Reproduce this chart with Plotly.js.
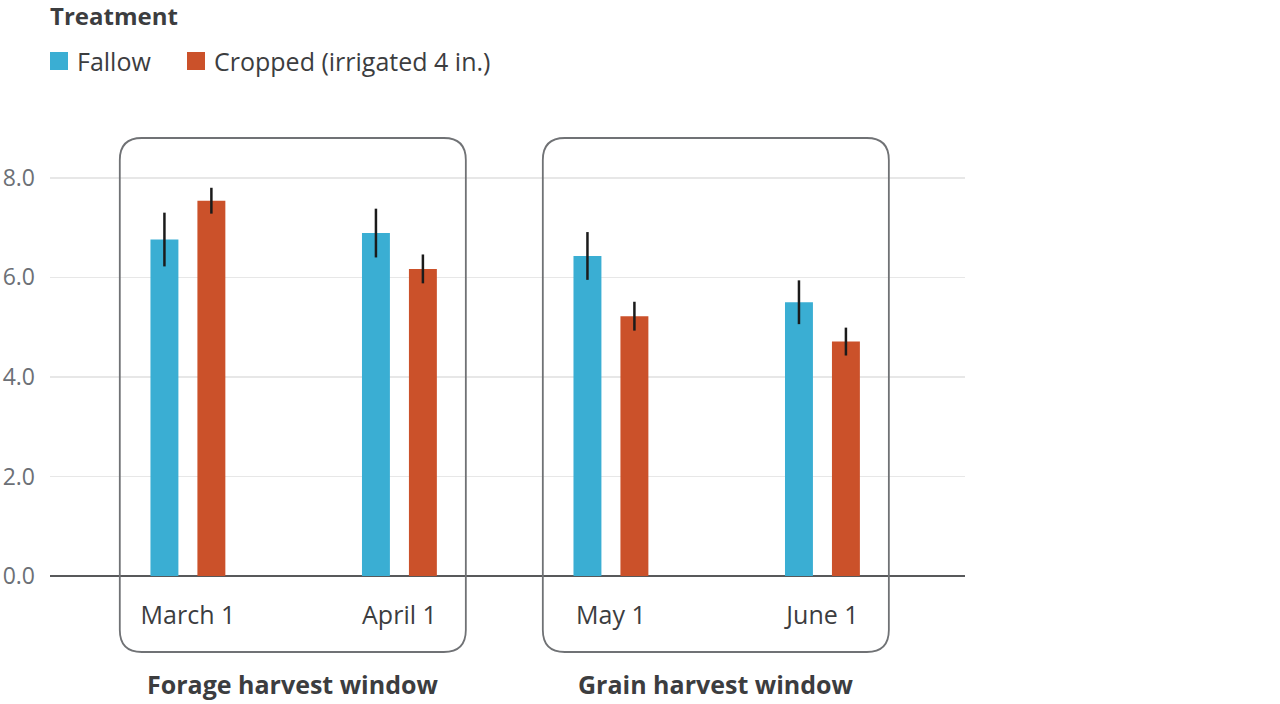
<!DOCTYPE html>
<html>
<head>
<meta charset="utf-8">
<script src="https://cdn.plot.ly/plotly-3.0.1.min.js"></script>
<style>
  html, body { margin: 0; padding: 0; background: #fff; }
  #chart { width: 1280px; height: 704px; }
</style>
</head>
<body>
<div id="chart"></div>
<script>
// Harvest dates, grouped into two harvest windows
const categories = ['March 1', 'April 1', 'May 1', 'June 1'];
const windows = [
  { label: 'Forage harvest window', from: 0, to: 1 },
  { label: 'Grain harvest window', from: 2, to: 3 }
];

// Yield by treatment, with error half-widths
const fallow = [6.76, 6.89, 6.43, 5.50];
const fallowErr = [0.54, 0.49, 0.48, 0.44];
const cropped = [7.54, 6.17, 5.22, 4.71];
const croppedErr = [0.26, 0.29, 0.29, 0.28];

const seriesNames = ['Fallow', 'Cropped (irrigated 4 in.)'];
const legendTitle = 'Treatment';
const yTicks = [0, 2, 4, 6, 8];

const BLUE = '#3aaed3';
const ORANGE = '#cb512a';
const TEXT = '#3c3d3f';
const FONT = '"Open Sans", Lato, sans-serif';

// Layout geometry (pixels)
const W = 1280, H = 704;
const M = { l: 50, r: 315, t: 138, b: 128 };
const plotW = W - M.l - M.r;
const plotH = H - M.t - M.b;
const xRange = [-0.652, 3.674];
const yRange = [0, 8.8];

const xPaper = v => (v - xRange[0]) / (xRange[1] - xRange[0]);
const pxX = p => (p - M.l) / plotW;
const pxY = p => (M.t + plotH - p) / plotH;

const traces = [
  {
    type: 'bar', name: seriesNames[0], x: categories, y: fallow,
    marker: { color: BLUE },
    error_y: { type: 'data', array: fallowErr, visible: true, color: '#1b1b1b', thickness: 2.5, width: 0 },
    showlegend: false, hoverinfo: 'x+y'
  },
  {
    type: 'bar', name: seriesNames[1], x: categories, y: cropped,
    marker: { color: ORANGE },
    error_y: { type: 'data', array: croppedErr, visible: true, color: '#1b1b1b', thickness: 2.5, width: 0 },
    showlegend: false, hoverinfo: 'x+y'
  }
];

// Rounded outline around each harvest window
function roundedBox(x0, x1, y0, y1, rPx) {
  const rx = rPx / plotW, ry = rPx / plotH;
  return 'M' + (x0 + rx) + ',' + y1 +
    ' L' + (x1 - rx) + ',' + y1 +
    ' Q' + x1 + ',' + y1 + ' ' + x1 + ',' + (y1 - ry) +
    ' L' + x1 + ',' + (y0 + ry) +
    ' Q' + x1 + ',' + y0 + ' ' + (x1 - rx) + ',' + y0 +
    ' L' + (x0 + rx) + ',' + y0 +
    ' Q' + x0 + ',' + y0 + ' ' + x0 + ',' + (y0 + ry) +
    ' L' + x0 + ',' + (y1 - ry) +
    ' Q' + x0 + ',' + y1 + ' ' + (x0 + rx) + ',' + y1 + ' Z';
}

const shapes = [];
const annotations = [];
const boxBottom = pxY(652);
windows.forEach(w => {
  const x0 = xPaper(w.from - 0.322);
  const x1 = xPaper(w.to + 0.314);
  shapes.push({
    type: 'path', xref: 'paper', yref: 'paper',
    path: roundedBox(x0, x1, boxBottom, 1, 22),
    line: { color: '#707275', width: 1.8 }, layer: 'above'
  });
  annotations.push({
    xref: 'paper', yref: 'paper', x: (x0 + x1) / 2, y: pxY(684),
    xanchor: 'center', yanchor: 'middle', showarrow: false,
    text: '<b>' + w.label + '</b>',
    font: { family: FONT, size: 25, color: TEXT }
  });
});

// Legend drawn as swatches with labels
annotations.push({
  xref: 'paper', yref: 'paper', x: pxX(48), y: pxY(15),
  xanchor: 'left', yanchor: 'middle', showarrow: false,
  text: '<b>' + legendTitle + '</b>',
  font: { family: FONT, size: 24, color: TEXT }
});
const legendItems = [
  { name: seriesNames[0], color: BLUE, sx: 50, tx: 75 },
  { name: seriesNames[1], color: ORANGE, sx: 187, tx: 212 }
];
legendItems.forEach(it => {
  shapes.push({
    type: 'rect', xref: 'paper', yref: 'paper',
    x0: pxX(it.sx), x1: pxX(it.sx + 18), y0: pxY(70), y1: pxY(52),
    fillcolor: it.color, line: { width: 0 }
  });
  annotations.push({
    xref: 'paper', yref: 'paper', x: pxX(it.tx), y: pxY(61),
    xanchor: 'left', yanchor: 'middle', showarrow: false,
    text: it.name, font: { family: FONT, size: 25, color: TEXT }
  });
});

const layout = {
  width: W, height: H,
  margin: M,
  paper_bgcolor: '#ffffff', plot_bgcolor: '#ffffff',
  barmode: 'group', bargap: 0.556, bargroupgap: 0.405,
  showlegend: false,
  font: { family: FONT, color: TEXT },
  xaxis: {
    type: 'category', range: xRange, fixedrange: true,
    showgrid: false, zeroline: false, showline: false, ticks: '',
    ticklabelstandoff: 22,
    tickfont: { family: FONT, size: 25, color: TEXT }
  },
  yaxis: {
    range: yRange, fixedrange: true,
    tickvals: yTicks, ticktext: yTicks.map(v => v.toFixed(1)),
    showgrid: true, gridcolor: '#e7e7e7', gridwidth: 1.5,
    zeroline: true, zerolinecolor: '#58595b', zerolinewidth: 2,
    showline: false, ticks: '',
    ticklabelstandoff: 14,
    tickfont: { family: FONT, size: 23, color: '#6c7076' }
  },
  shapes: shapes,
  annotations: annotations
};

Plotly.newPlot('chart', traces, layout, { displayModeBar: false, staticPlot: true });
</script>
</body>
</html>
